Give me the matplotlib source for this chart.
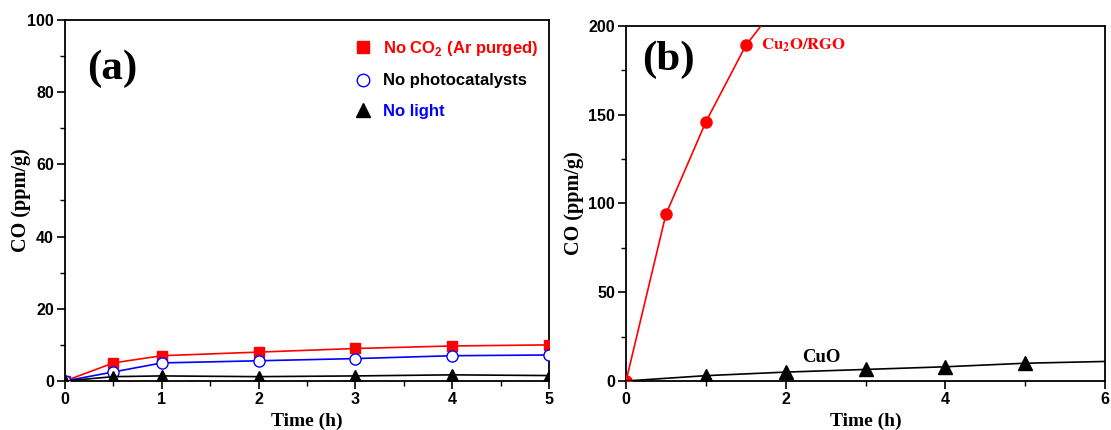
import matplotlib
matplotlib.use('Agg')
import matplotlib.pyplot as plt
from matplotlib.lines import Line2D

plt.rcParams['font.family'] = 'Liberation Sans'
plt.rcParams['font.weight'] = 'bold'
plt.rcParams['mathtext.fontset'] = 'custom'
plt.rcParams['mathtext.rm'] = 'Liberation Sans:bold'
plt.rcParams['mathtext.bf'] = 'Liberation Sans:bold'

# panel (a) data
t_a = [0, 0.5, 1, 2, 3, 4, 5]
no_co2 = [0, 5.0, 7.0, 8.0, 9.0, 9.7, 10.0]
no_cat = [0, 2.5, 5.0, 5.6, 6.2, 7.0, 7.2]
no_light = [0, 1.2, 1.4, 1.2, 1.4, 1.7, 1.5]

# panel (b) data
t_cu2o = [0, 0.5, 1, 1.5, 2]
cu2o_rgo = [0, 94, 146, 189, 218]
t_cuo = [0, 1, 2, 3, 4, 5, 6]
cuo = [0, 3.0, 5.0, 6.5, 8.0, 10.0, 11.0]

fig = plt.figure(figsize=(11.11, 4.30), dpi=100)
ax1 = fig.add_axes([0.0585, 0.114, 0.4356, 0.8395])
ax2 = fig.add_axes([0.5635, 0.114, 0.4311, 0.8256])

serif = 'Liberation Serif'

# ---- (a)
ax1.plot(t_a, no_co2, color='red', lw=1.2, marker='s', ms=7.5, zorder=3)
ax1.plot(t_a, no_cat, color='blue', lw=1.2, marker='o', ms=8, mfc='white', mec='blue', zorder=3)
ax1.plot(t_a, no_light, color='black', lw=1.2, marker='^', ms=9, zorder=3)
ax1.set_xlim(0, 5)
ax1.set_ylim(0, 100)
ax1.set_xticks([0, 1, 2, 3, 4, 5])
ax1.set_xticks([0.5, 1.5, 2.5, 3.5, 4.5], minor=True)
ax1.set_yticks([0, 20, 40, 60, 80, 100])
ax1.set_yticks([10, 30, 50, 70, 90], minor=True)
ax1.set_xlabel('Time (h)', family=serif, fontsize=14, weight='bold', labelpad=4)
ax1.set_ylabel('CO (ppm/g)', family=serif, fontsize=14.5, weight='bold', labelpad=-3)
ax1.text(0.097, 0.865, '(a)', transform=ax1.transAxes, family=serif, fontsize=31,
         weight='bold', ha='center', va='center')

handles = [
    Line2D([], [], ls='none', marker='s', ms=8.5, color='red'),
    Line2D([], [], ls='none', marker='o', ms=9, mfc='white', mec='blue'),
    Line2D([], [], ls='none', marker='^', ms=9.5, color='black'),
]
labels = [r'No CO$_\mathbf{2}$ (Ar purged)', 'No photocatalysts', 'No light']
leg = ax1.legend(handles, labels, loc='upper left', bbox_to_anchor=(0.565, 0.99),
                 frameon=False, fontsize=12, labelspacing=0.95, handletextpad=0.6,
                 handlelength=1.2, labelcolor=['red', 'black', 'blue'])

# ---- (b)
ax2.plot(t_cu2o, cu2o_rgo, color='red', lw=1.2, marker='o', ms=8, zorder=3)
ax2.plot(t_cuo, cuo, color='black', lw=1.2, marker='^', ms=9.5, markevery=[1, 2, 3, 4, 5], zorder=3)
ax2.set_xlim(0, 6)
ax2.set_ylim(0, 200)
ax2.set_xticks([0, 2, 4, 6])
ax2.set_xticks([1, 3, 5], minor=True)
ax2.set_yticks([0, 50, 100, 150, 200])
ax2.set_yticks([25, 75, 125, 175], minor=True)
ax2.set_xlabel('Time (h)', family=serif, fontsize=14, weight='bold', labelpad=4)
ax2.set_ylabel('CO (ppm/g)', family=serif, fontsize=14.5, weight='bold', labelpad=3)
ax2.text(0.088, 0.904, '(b)', transform=ax2.transAxes, family=serif, fontsize=31,
         weight='bold', ha='center', va='center')
ax2.text(1.69, 189, r'$\mathbf{Cu_2O/RGO}$', family=serif, math_fontfamily='stix',
         fontsize=12, color='red', ha='left', va='center')
ax2.text(2.45, 13.5, 'CuO', family=serif, fontsize=13.5, weight='bold', color='black',
         ha='center', va='center')

for ax in (ax1, ax2):
    for s in ax.spines.values():
        s.set_linewidth(1.3)
    ax.tick_params(which='major', direction='out', length=6, width=1.2, labelsize=11.5, pad=2)
    ax.tick_params(which='minor', direction='out', length=3.5, width=1.0)
    for lab in ax.get_xticklabels() + ax.get_yticklabels():
        lab.set_fontweight('bold')

fig.savefig('out.png', dpi=100)
